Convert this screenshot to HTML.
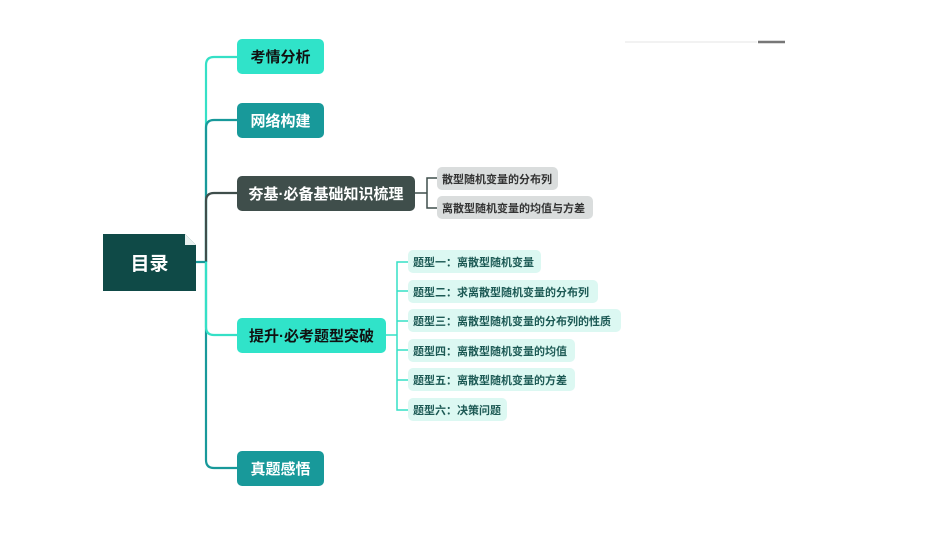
<!DOCTYPE html>
<html><head><meta charset="utf-8"><style>
body{margin:0;width:950px;height:535px;background:#fff;overflow:hidden;position:relative;font-family:"Liberation Sans","Noto Sans CJK SC",sans-serif;font-weight:bold}
.n{position:absolute;box-sizing:border-box;border-radius:5px;display:flex;align-items:center;justify-content:center;white-space:nowrap}
.m{height:35px;font-size:15px}
.t{height:23px;font-size:11px;background:#dcf8f2;color:#1d5a55;justify-content:flex-start;padding-left:5px;border-radius:5px}
.g{height:23px;font-size:11px;background:#dadddd;color:#333;justify-content:flex-start;padding-left:5px}
</style></head><body>
<svg width="950" height="535" style="position:absolute;left:0;top:0" fill="none" stroke-width="2.2">
<path d="M237 57 H214 Q206 57 206 65 V262" stroke="#35e0c6"/>
<path d="M237 120 H214 Q206 120 206 128 V262" stroke="#18999a"/>
<path d="M237 193 H214 Q206 193 206 201 V262" stroke="#3f4e4b"/>
<path d="M196 262 H206 V460 Q206 468 214 468 H237" stroke="#18999a"/>
<path d="M206 262 V327 Q206 335 214 335 H237" stroke="#35e0c6"/>
<path d="M415 193 H427 M437 178 H427 V208 H437" stroke="#3f4e4b" stroke-width="1.5"/>
<path d="M386 335 H397 M408 262 H397 V410 H408 M397 291 H408 M397 321 H408 M397 350 H408 M397 380 H408" stroke="#35e0c6" stroke-width="1.5"/>
<line x1="625" y1="42" x2="757" y2="42" stroke="#e6e6e6" stroke-width="1"/>
<line x1="758" y1="42" x2="785" y2="42" stroke="#777" stroke-width="2.5"/>
<path d="M103 234 H185 L196 245 V291 H103 Z" fill="#0f4a47"/>
<path d="M185 234 V245 H196 Z" fill="#e9f1f0"/>
</svg>
<div class="n" style="left:103px;top:234px;width:93px;height:57px;color:#fff;font-size:19px;background:none">目录</div>
<div class="n m" style="left:237px;top:39px;width:87px;background:#30e3c9;color:#111">考情分析</div>
<div class="n m" style="left:237px;top:103px;width:87px;background:#18999a;color:#fff">网络构建</div>
<div class="n m" style="left:237px;top:176px;width:178px;background:#3f4e4b;color:#fff">夯基·必备基础知识梳理</div>
<div class="n m" style="left:237px;top:318px;width:149px;background:#30e3c9;color:#111">提升·必考题型突破</div>
<div class="n m" style="left:237px;top:451px;width:87px;background:#18999a;color:#fff">真题感悟</div>
<div class="n g" style="left:437px;top:167px;width:121px">散型随机变量的分布列</div>
<div class="n g" style="left:437px;top:196px;width:156px">离散型随机变量的均值与方差</div>
<div class="n t" style="left:408px;top:250px;width:133px">题型一：离散型随机变量</div>
<div class="n t" style="left:408px;top:280px;width:190px">题型二：求离散型随机变量的分布列</div>
<div class="n t" style="left:408px;top:309px;width:213px">题型三：离散型随机变量的分布列的性质</div>
<div class="n t" style="left:408px;top:339px;width:167px">题型四：离散型随机变量的均值</div>
<div class="n t" style="left:408px;top:368px;width:167px">题型五：离散型随机变量的方差</div>
<div class="n t" style="left:408px;top:398px;width:99px">题型六：决策问题</div>
</body></html>
